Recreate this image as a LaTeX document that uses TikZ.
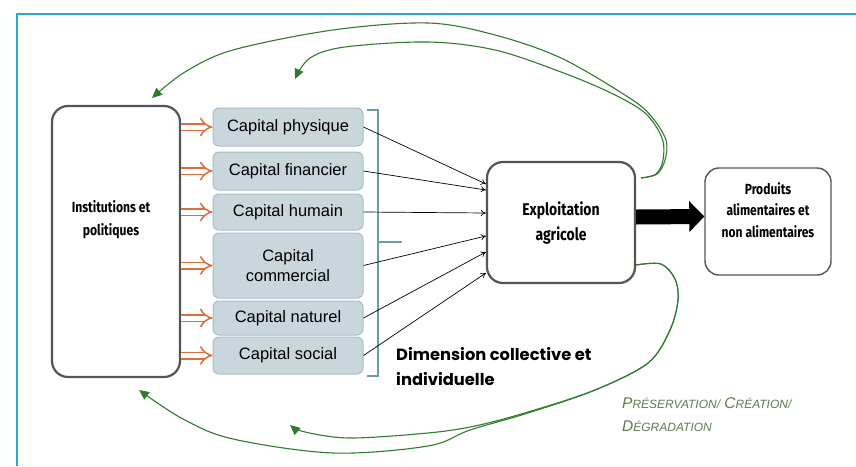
\documentclass[tikz,border=0pt]{standalone}
\usepackage{fontspec}
\usepackage{graphicx}
\setmainfont{Liberation Sans}
\newfontfamily\gothic{Poppins}
\newfontfamily\condf{Fira Sans}
\usetikzlibrary{arrows.meta}
\definecolor{frameblue}{HTML}{2AA7D6}
\definecolor{capfill}{HTML}{C9D6DC}
\definecolor{capdraw}{HTML}{A9BDC5}
\definecolor{brteal}{HTML}{6A9E9E}
\definecolor{orng}{HTML}{D9703F}
\definecolor{grn}{HTML}{55714A}
\definecolor{grnhead}{HTML}{2F7A2F}
\definecolor{txtgrn}{HTML}{5E7A50}
\definecolor{boxgray}{HTML}{555555}
\tikzset{
  capbox/.style={draw=capdraw, line width=1pt, fill=capfill, rounded corners=6pt,
    minimum width=150pt, inner sep=0pt, align=center, font=\fontsize{16.5}{20}\selectfont},
  bigbox/.style={draw=boxgray, line width=2.2pt, fill=white, rounded corners=16pt,
    inner sep=0pt, align=center},
  orarrow/.style={draw=orng, double=white, double distance=5pt, line width=1.5pt,
    -{Implies[length=6pt]}},
  thinarrow/.style={draw=black, line width=0.7pt, -{To[length=5pt,width=6pt]}},
  greencurve/.style={draw=grn, line width=1.1pt, -{Triangle[length=10pt,width=9pt]}, grnhead},
}
\newcommand{\cnd}[1]{\scalebox{0.82}[1]{#1}}
\newcommand{\liftlines}[2]{\raisebox{#1}[0pt][0pt]{\begin{tabular}{@{}c@{}}#2\end{tabular}}}
\begin{document}
\begin{tikzpicture}[x=1pt,y=-1pt]
\useasboundingbox (0,0) rectangle (856,466);
% frame
\draw[frameblue, line width=2pt] (17,466) -- (17,14) -- (856,14);

% main boxes
\node[bigbox, minimum width=128pt, minimum height=271pt, font=\condf\bfseries\fontsize{14.8}{23}\selectfont] (inst) at (116,241.5)
  {\liftlines{19pt}{\cnd{Institutions et}\\\cnd{politiques}}\hspace*{10pt}};
\node[bigbox, minimum width=148pt, minimum height=121pt, font=\condf\bfseries\fontsize{17}{25}\selectfont] (ex) at (561,222.5)
  {\cnd{Exploitation}\\\cnd{agricole}};
\node[bigbox, line width=1.4pt, rounded corners=14pt, minimum width=126pt, minimum height=107pt, font=\condf\bfseries\fontsize{14.7}{21.5}\selectfont] (pr) at (768,221.5)
  {\liftlines{6.5pt}{\cnd{Produits}\\\cnd{alimentaires et}\\\cnd{non alimentaires}}};

% capital boxes
\node[capbox, minimum height=38pt] (cp) at (288,127) {Capital physique};
\node[capbox, minimum height=38pt] (cf) at (288,171) {Capital financier};
\node[capbox, minimum height=36pt] (ch) at (288,212) {Capital humain};
\node[capbox, minimum height=65pt] (cc) at (288,265.5) {Capital\\commercial};
\node[capbox, minimum height=34pt] (cn) at (288,318) {Capital naturel};
\node[capbox, minimum height=37pt] (cs) at (288,355.5) {Capital social};

% orange arrows
\foreach \c in {cp,cf,ch,cc,cn,cs}
  \draw[orarrow] (inst.east |- \c.west) -- (\c.west);

% bracket
\coordinate (bt) at (378,110);
\coordinate (bb) at (378,376);
\coordinate (bm) at (402,242);
\draw[brteal, line width=2.5pt] (367,110) -- (bt) -- (bb) -- (367,376);
\draw[brteal, line width=2.5pt] (bt |- bm) -- (bm);

% thin arrows
\draw[thinarrow] (cp.east) -- ([yshift=38.5pt]ex.west);
\draw[thinarrow] (cf.east) -- ([yshift=32.5pt]ex.west);
\draw[thinarrow] (ch.east) -- ([yshift=9.5pt]ex.west);
\draw[thinarrow] (cc.east) -- ([yshift=-13.5pt]ex.west);
\draw[thinarrow] (cn.east) -- ([yshift=-29.5pt]ex.west);
\draw[thinarrow] (cs.east) -- ([yshift=-50.5pt]ex.west);

% thick black arrow
\draw[line width=15pt, -{Triangle[length=15pt,width=30pt]}] ([yshift=5.5pt]ex.east) -- ([yshift=5pt]pr.west);

% green curves
\coordinate (gtop) at (641,178);
\coordinate (gbot) at (636,265);
\coordinate (t1) at (152,98);
\coordinate (t2) at (295,79);
\coordinate (t3) at (139,390);
\coordinate (t4) at (290,425);
\draw[greencurve] plot[smooth, tension=0.55] coordinates {(gtop) (657,174) (665,160) (666,140) (651,116) (628,97) (561,58) (495,35) (428,23) (333,30) (233,50) (185,72) (t1)};
\draw[greencurve] plot[smooth, tension=0.55] coordinates {(gtop) (656,174) (663,160) (662,138) (645,113) (611,93) (561,72) (495,50) (428,42) (345,47) (310,58) (t2)};
\draw[greencurve] plot[smooth, tension=0.55] coordinates {(gbot) (661,264) (675,279) (678,300) (670,330) (648,363) (595,390) (528,413) (470,430) (428,446) (333,453) (233,439) (183,419) (t3)};
\draw[greencurve] plot[smooth, tension=0.55] coordinates {(gbot) (661,264) (675,279) (678,300) (670,330) (648,363) (595,390) (528,412) (475,426) (428,433) (350,438) (305,432) (t4)};

% texts
\node[anchor=west, inner sep=0pt, align=left, font=\gothic\bfseries\fontsize{16.3}{25}\selectfont] (dim) at (396,367)
  {Dimension collective et\\individuelle};
\node[anchor=west, inner sep=0pt, align=left, text=txtgrn, font=\itshape\fontsize{15.5}{23}\selectfont] (pres) at (622,414.5)
  {P{\fontsize{12}{12}\selectfont R\'ESERVATION/} C{\fontsize{12}{12}\selectfont R\'EATION/}\\D{\fontsize{12}{12}\selectfont \'EGRADATION}};
\end{tikzpicture}
\end{document}
